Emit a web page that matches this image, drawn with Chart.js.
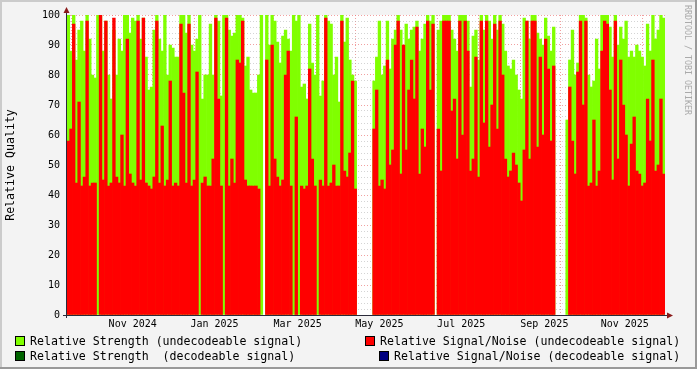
<!DOCTYPE html>
<html>
<head>
<meta charset="utf-8">
<script src="https://cdn.jsdelivr.net/npm/chart.js@4/dist/chart.umd.min.js"></script>
<style>
  html, body { margin: 0; padding: 0; background: #f3f3f3; }
</style>
</head>
<body>
<canvas id="quality" width="697" height="369"></canvas>
<script>
// one sample every two days, starting here
const startDate = "2024-09-29";
const stepDays = 2;

// Relative Strength (undecodeable signal)
const strength = [
  100, 88, 100, 85, 95, 98, 88, 100, 92, 80,
  79, 100, 100, 88, 98, 80, 72, 95, 80, 92,
  88, 100, 100, 94, 99, 98, 100, 92, 99, 86,
  75, 76, 95, 100, 92, 88, 100, 80, 90, 89,
  86, 86, 100, 100, 94, 100, 90, 88, 92, 100,
  72, 80, 80, 97, 80, 100, 98, 73, 100, 100,
  95, 93, 94, 100, 100, 99, 83, 86, 75, 74,
  74, 80, 100, null, 100, 90, 100, 98, 91, 84,
  93, 95, 92, 88, 100, 98, 100, 76, 77, 72,
  97, 84, 80, 100, 73, 78, 100, 98, 97, 80,
  86, 71, 100, 91, 99, 85, 80, 78, null, null,
  null, null, null, null, 78, 86, 98, 80, 83, 98,
  82, 92, 95, 100, 95, 88, 97, 92, 95, 96,
  98, 88, 92, 97, 100, 98, 100, null, 95, 98,
  100, 100, 100, 95, 92, 88, 100, 100, 100, 98,
  76, 93, 95, 85, 100, 95, 100, 98, 92, 100,
  95, 100, 97, 88, 83, 82, 85, 80, 75, 72,
  99, 98, 92, 100, 100, 94, 92, 90, 99, 93,
  88, 96, null, null, null, null, 65, 85, 95, 80,
  84, 100, 100, 99, 80, 76, 78, 92, 82, 100,
  100, 100, 96, 86, 100, 90, 96, 92, 98, 86,
  88, 86, 90, 88, 86, 83, 97, 88, 100, 92,
  95, 100, 99
];

// Relative Signal/Noise (undecodeable signal)
const signalNoise = [
  58, 62, 97, 44, 71, 43, 46, 98, 43, 44,
  44, null, 100, 45, 98, 43, 44, 99, 46, 44,
  60, 43, 92, 47, 44, 43, 98, 45, 99, 44,
  43, 42, 46, 98, 44, 63, 43, 45, 78, 43,
  44, 43, 97, 74, 44, 97, 43, 45, 81, null,
  44, 46, 43, 43, 52, 99, 72, 43, null, 99,
  43, 52, 44, 85, 84, 98, 45, 43, 43, 43,
  43, 42, null, null, 85, 43, 90, 52, 46, 43,
  45, 80, 88, 43, null, 66, null, 43, 42, 43,
  82, 52, 43, null, 45, 43, 99, 43, 44, 50,
  43, 43, 98, 48, 46, 54, 78, 42, null, null,
  null, null, null, null, 62, 75, 43, 45, 42, 85,
  50, 55, 90, 98, 47, 90, 55, 75, 85, 72,
  96, 47, 62, 56, 98, 75, 97, null, 62, 48,
  98, 98, 98, 68, 72, 52, 98, 60, 98, 88,
  48, 52, 86, 46, 98, 64, 98, 56, 70, 97,
  62, 98, 80, 52, 46, 48, 54, 50, 44, 38,
  55, 98, 52, 98, 98, 56, 86, 60, 92, 82,
  58, 83, null, null, null, null, null, 76, 58, 47,
  81, 98, 70, 98, 43, 44, 65, 43, 48, 88,
  98, 97, 75, 45, 98, 52, 85, 70, 60, 43,
  57, 66, 48, 47, 43, 44, 72, 58, 85, 48,
  50, 72, 47
];

// decodeable series have no samples in this period
const strengthDecoded = [];
const signalNoiseDecoded = [];

const monthStarts = [
  "2024-10-01", "2024-11-01", "2024-12-01", "2025-01-01", "2025-02-01",
  "2025-03-01", "2025-04-01", "2025-05-01", "2025-06-01", "2025-07-01",
  "2025-08-01", "2025-09-01", "2025-10-01", "2025-11-01", "2025-12-01"
];
const tickLabels = ["Nov 2024", "Jan 2025", "Mar 2025", "May 2025", "Jul 2025", "Sep 2025", "Nov 2025"];
const tickDates = ["2024-11-16", "2025-01-16", "2025-03-19", "2025-05-19", "2025-07-19", "2025-09-19", "2025-11-18"];

const dayOf = d => Math.round((Date.parse(d) - Date.parse(startDate)) / 86400000);
const points = arr => arr.map((v, i) => ({ x: i * stepDays, y: v }));

const MONO = "'DejaVu Sans Mono', monospace";
const GRID = "rgba(170,170,170,0.5)";
const MGRID = "rgba(235,120,120,0.7)";

// background, frame, axis arrows, legend and the side note, the way rrdtool draws them
const rrdFrame = {
  id: "rrdFrame",
  beforeDraw(chart) {
    const { ctx, chartArea: a, width, height } = chart;
    ctx.save();
    ctx.fillStyle = "#f3f3f3";
    ctx.fillRect(0, 0, width, height);
    ctx.fillStyle = "#cbcbcb";
    ctx.fillRect(0, 0, width, 2);
    ctx.fillRect(0, 0, 2, height);
    ctx.fillStyle = "#999999";
    ctx.fillRect(0, height - 2, width, 2);
    ctx.fillRect(width - 2, 0, 2, height);
    ctx.fillStyle = "#ffffff";
    ctx.fillRect(a.left, a.top, a.right - a.left, a.bottom - a.top);
    ctx.restore();
  },
  afterDraw(chart) {
    const { ctx, chartArea: a } = chart;
    ctx.save();

    // axes
    ctx.strokeStyle = "#2a2a3a";
    ctx.lineWidth = 1;
    ctx.beginPath();
    ctx.moveTo(a.left - 4, a.bottom + 0.5);
    ctx.lineTo(a.right + 4, a.bottom + 0.5);
    ctx.moveTo(a.left - 0.5, a.bottom + 3);
    ctx.lineTo(a.left - 0.5, a.top - 4);
    ctx.stroke();

    ctx.fillStyle = "#8b1a1a";
    ctx.beginPath();
    ctx.moveTo(a.left - 0.5, a.top - 8);
    ctx.lineTo(a.left - 3.5, a.top - 2);
    ctx.lineTo(a.left + 2.5, a.top - 2);
    ctx.closePath();
    ctx.fill();
    ctx.beginPath();
    ctx.moveTo(a.right + 8, a.bottom + 0.5);
    ctx.lineTo(a.right + 2, a.bottom - 2.5);
    ctx.lineTo(a.right + 2, a.bottom + 3.5);
    ctx.closePath();
    ctx.fill();

    // legend
    const slots = [[15, 336], [365, 336], [15, 351], [379, 351]];
    ctx.font = "11.6px " + MONO;
    ctx.textBaseline = "middle";
    ctx.textAlign = "left";
    chart.data.datasets.forEach((ds, i) => {
      const [x, y] = slots[i];
      ctx.fillStyle = ds.backgroundColor;
      ctx.fillRect(x, y, 10, 10);
      ctx.strokeStyle = "#000000";
      ctx.strokeRect(x + 0.5, y + 0.5, 9, 9);
      ctx.fillStyle = "#000000";
      ctx.fillText(ds.label, x + 15, y + 5.5);
    });

    // side note
    ctx.translate(687, 5);
    ctx.rotate(Math.PI / 2);
    ctx.font = "8.3px " + MONO;
    ctx.fillStyle = "#aaaaaa";
    ctx.fillText("RRDTOOL / TOBI OETIKER", 0, 0);
    ctx.restore();
  }
};

new Chart(document.getElementById("quality"), {
  type: "bar",
  data: {
    datasets: [
      {
        label: "Relative Strength (undecodeable signal)",
        data: points(strength),
        backgroundColor: "#80ff00",
        order: 1
      },
      {
        label: "Relative Signal/Noise (undecodeable signal)",
        data: points(signalNoise),
        backgroundColor: "#ff0000",
        order: 0
      },
      {
        label: "Relative Strength  (decodeable signal)",
        data: points(strengthDecoded),
        backgroundColor: "#006400",
        order: 2
      },
      {
        label: "Relative Signal/Noise (decodeable signal)",
        data: points(signalNoiseDecoded),
        backgroundColor: "#000080",
        order: 3
      }
    ]
  },
  options: {
    responsive: false,
    animation: false,
    events: [],
    layout: { padding: { left: 0, right: 32, top: 15, bottom: 0 } },
    datasets: {
      bar: {
        grouped: false,
        barPercentage: 1,
        categoryPercentage: 1,
        borderWidth: 0
      }
    },
    plugins: {
      legend: { display: false },
      tooltip: { enabled: false }
    },
    scales: {
      x: {
        type: "linear",
        min: -stepDays / 2,
        max: (strength.length - 1) * stepDays + stepDays / 2,
        offset: false,
        z: 1,
        afterFit: s => { s.height = 54; },
        afterBuildTicks: s => {
          s.ticks = monthStarts.map(d => ({ value: dayOf(d), month: true }))
            .concat(tickDates.map((d, i) => ({ value: dayOf(d), text: tickLabels[i] })));
        },
        grid: {
          offset: false,
          drawTicks: false,
          lineWidth: 1,
          color: c => (c.tick && c.tick.month ? MGRID : "rgba(0,0,0,0)")
        },
        border: { display: false, dash: [1, 2] },
        ticks: {
          autoSkip: false,
          maxRotation: 0,
          padding: 3,
          color: "#000000",
          font: { family: MONO, size: 10 },
          callback: (v, i, ticks) => ticks[i].text || ""
        }
      },
      y: {
        type: "linear",
        min: 0,
        max: 100,
        z: 1,
        afterFit: s => { s.width = 67; },
        grid: {
          drawTicks: false,
          lineWidth: 1,
          color: c => (c.tick && c.tick.value % 10 === 0 ? MGRID : GRID)
        },
        border: { display: false, dash: [1, 2] },
        ticks: {
          stepSize: 2,
          autoSkip: false,
          padding: 7,
          color: "#000000",
          font: { family: MONO, size: 10 },
          callback: v => (v % 10 === 0 ? v : "")
        },
        title: {
          display: true,
          text: "Relative Quality",
          color: "#000000",
          padding: { top: 4, bottom: 0 },
          font: { family: MONO, size: 11.6 }
        }
      }
    }
  },
  plugins: [rrdFrame]
});
</script>
</body>
</html>
